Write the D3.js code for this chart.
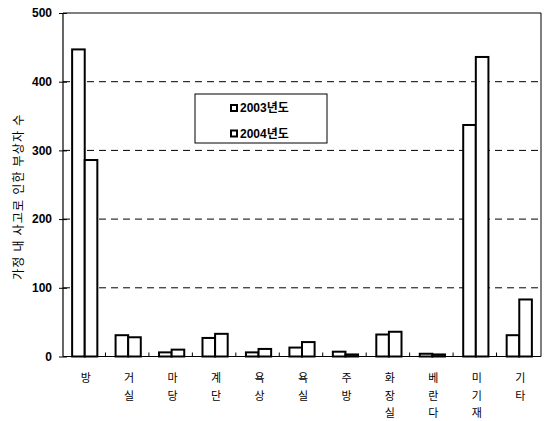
<!DOCTYPE html>
<html>
<head>
<meta charset="utf-8">
<script src="https://cdn.jsdelivr.net/npm/d3@7"></script>
<style>
  body { margin: 0; background: #fff; }
  text { font-family: "Liberation Sans", "Noto Sans CJK KR", sans-serif; fill: #000; }
  .kr { font-family: "Noto Sans CJK KR", sans-serif; }
</style>
</head>
<body>
<div id="chart"></div>
<script>
var categories = ['방', '거실', '마당', '계단', '욕상', '욕실', '주방', '화장실', '베란다', '미기재', '기타'];
var series = ['2003년도', '2004년도'];
var values2003 = [447, 31, 6, 27, 6, 13, 7, 32, 4, 337, 31];
var values2004 = [286, 28, 10, 33, 11, 21, 3, 36, 3, 436, 83];
var yTicks = [0, 100, 200, 300, 400, 500];

const WIDTH = 544;
const HEIGHT = 421;
const LEFT = 63, RIGHT = 541, TOP = 13, BOTTOM = 356.5;

var rows = categories.map(function(c, i){
  return {cat: c, vals: [values2003[i], values2004[i]]};
});

var svg = d3.select('#chart').append('svg')
  .attr('width', WIDTH)
  .attr('height', HEIGHT);

var x = d3.scaleBand()
  .domain(categories)
  .range([LEFT, RIGHT])
  .paddingInner(0.42)
  .paddingOuter(0.21);

var x1 = d3.scaleBand()
  .domain(series)
  .range([0, x.bandwidth()]);

var y = d3.scaleLinear()
  .domain([0, 500])
  .range([BOTTOM, TOP]);

// grid lines
svg.append('g').selectAll('line')
  .data(yTicks.filter(function(d){ return d > 0 && d < 500; }))
  .enter().append('line')
  .attr('x1', LEFT).attr('x2', RIGHT)
  .attr('y1', function(d){ return y(d); })
  .attr('y2', function(d){ return y(d); })
  .attr('stroke', '#000')
  .attr('stroke-width', 1)
  .attr('stroke-dasharray', '7,5');

// frame top and right
svg.append('path')
  .attr('d', 'M' + LEFT + ',' + y(500) + 'H' + RIGHT + 'V' + BOTTOM)
  .attr('fill', 'none')
  .attr('stroke', '#000')
  .attr('stroke-width', 1);

// bars
var groups = svg.append('g').selectAll('g')
  .data(rows)
  .enter().append('g')
  .attr('transform', function(d){ return 'translate(' + x(d.cat) + ',0)'; });

groups.selectAll('rect')
  .data(function(d){ return d.vals.map(function(v, i){ return {s: series[i], v: v}; }); })
  .enter().append('rect')
  .attr('x', function(d){ return x1(d.s); })
  .attr('y', function(d){ return y(d.v); })
  .attr('width', x1.bandwidth())
  .attr('height', function(d){ return y(0) - y(d.v); })
  .attr('fill', '#fff')
  .attr('stroke', '#000')
  .attr('stroke-width', 2);

// y axis
var yAxis = d3.axisLeft(y).tickValues(yTicks).tickSize(4).tickPadding(7);
var gy = svg.append('g')
  .attr('transform', 'translate(' + LEFT + ',0)')
  .call(yAxis);
gy.select('.domain').attr('stroke-width', 1.2).attr('d', 'M0,' + y(500) + 'V' + BOTTOM);
gy.selectAll('.tick line').attr('x1', 4).attr('x2', -4);
gy.selectAll('.tick text')
  .style('font-size', '12px')
  .style('font-weight', 'bold')
  .style('font-family', '"Liberation Sans", sans-serif');

// x axis baseline and ticks at category boundaries
svg.append('line')
  .attr('x1', LEFT).attr('x2', RIGHT)
  .attr('y1', y(0)).attr('y2', y(0))
  .attr('stroke', '#000').attr('stroke-width', 1.2);

var step = x.step();
svg.append('g').selectAll('line')
  .data(categories.slice(1))
  .enter().append('line')
  .attr('x1', function(d){ return x(d) - step * 0.21 - 1; })
  .attr('x2', function(d){ return x(d) - step * 0.21 - 1; })
  .attr('y1', y(0)).attr('y2', y(0) - 4)
  .attr('stroke', '#000').attr('stroke-width', 1);

// x labels stacked vertically
var xl = svg.append('g').selectAll('text')
  .data(categories)
  .enter().append('text')
  .attr('class', 'kr')
  .attr('text-anchor', 'middle')
  .style('font-size', '11px')
  .attr('transform', function(d){ return 'translate(' + (x(d) + x.bandwidth() / 2 + 1) + ',382)'; });

xl.selectAll('tspan')
  .data(function(d){ return d.split(''); })
  .enter().append('tspan')
  .attr('x', 0)
  .attr('y', function(d, i){ return i * 17.5; })
  .text(function(d){ return d; });

// y axis title
svg.append('text')
  .attr('class', 'kr')
  .attr('transform', 'translate(23,' + ((TOP + BOTTOM) / 2 + 12) + ') rotate(-90)')
  .attr('text-anchor', 'middle')
  .style('font-size', '12px')
  .style('letter-spacing', '1.2px')
  .text('가정 내 사고로 인한 부상자 수');

// legend
var legend = svg.append('g').attr('transform', 'translate(195,94)');
legend.append('rect')
  .attr('width', 132).attr('height', 49)
  .attr('fill', '#fff').attr('stroke', '#000').attr('stroke-width', 1);

var items = legend.selectAll('g.item')
  .data(series)
  .enter().append('g')
  .attr('class', 'item')
  .attr('transform', function(d, i){ return 'translate(36,' + (11 + i * 25.5) + ')'; });

items.append('rect')
  .attr('width', 6).attr('height', 6)
  .attr('fill', '#fff').attr('stroke', '#000').attr('stroke-width', 2);

items.append('text')
  .attr('x', 9).attr('y', 7)
  .style('font-size', '12px')
  .style('font-weight', 'bold')
  .text(function(d){ return d; });
</script>
</body>
</html>
